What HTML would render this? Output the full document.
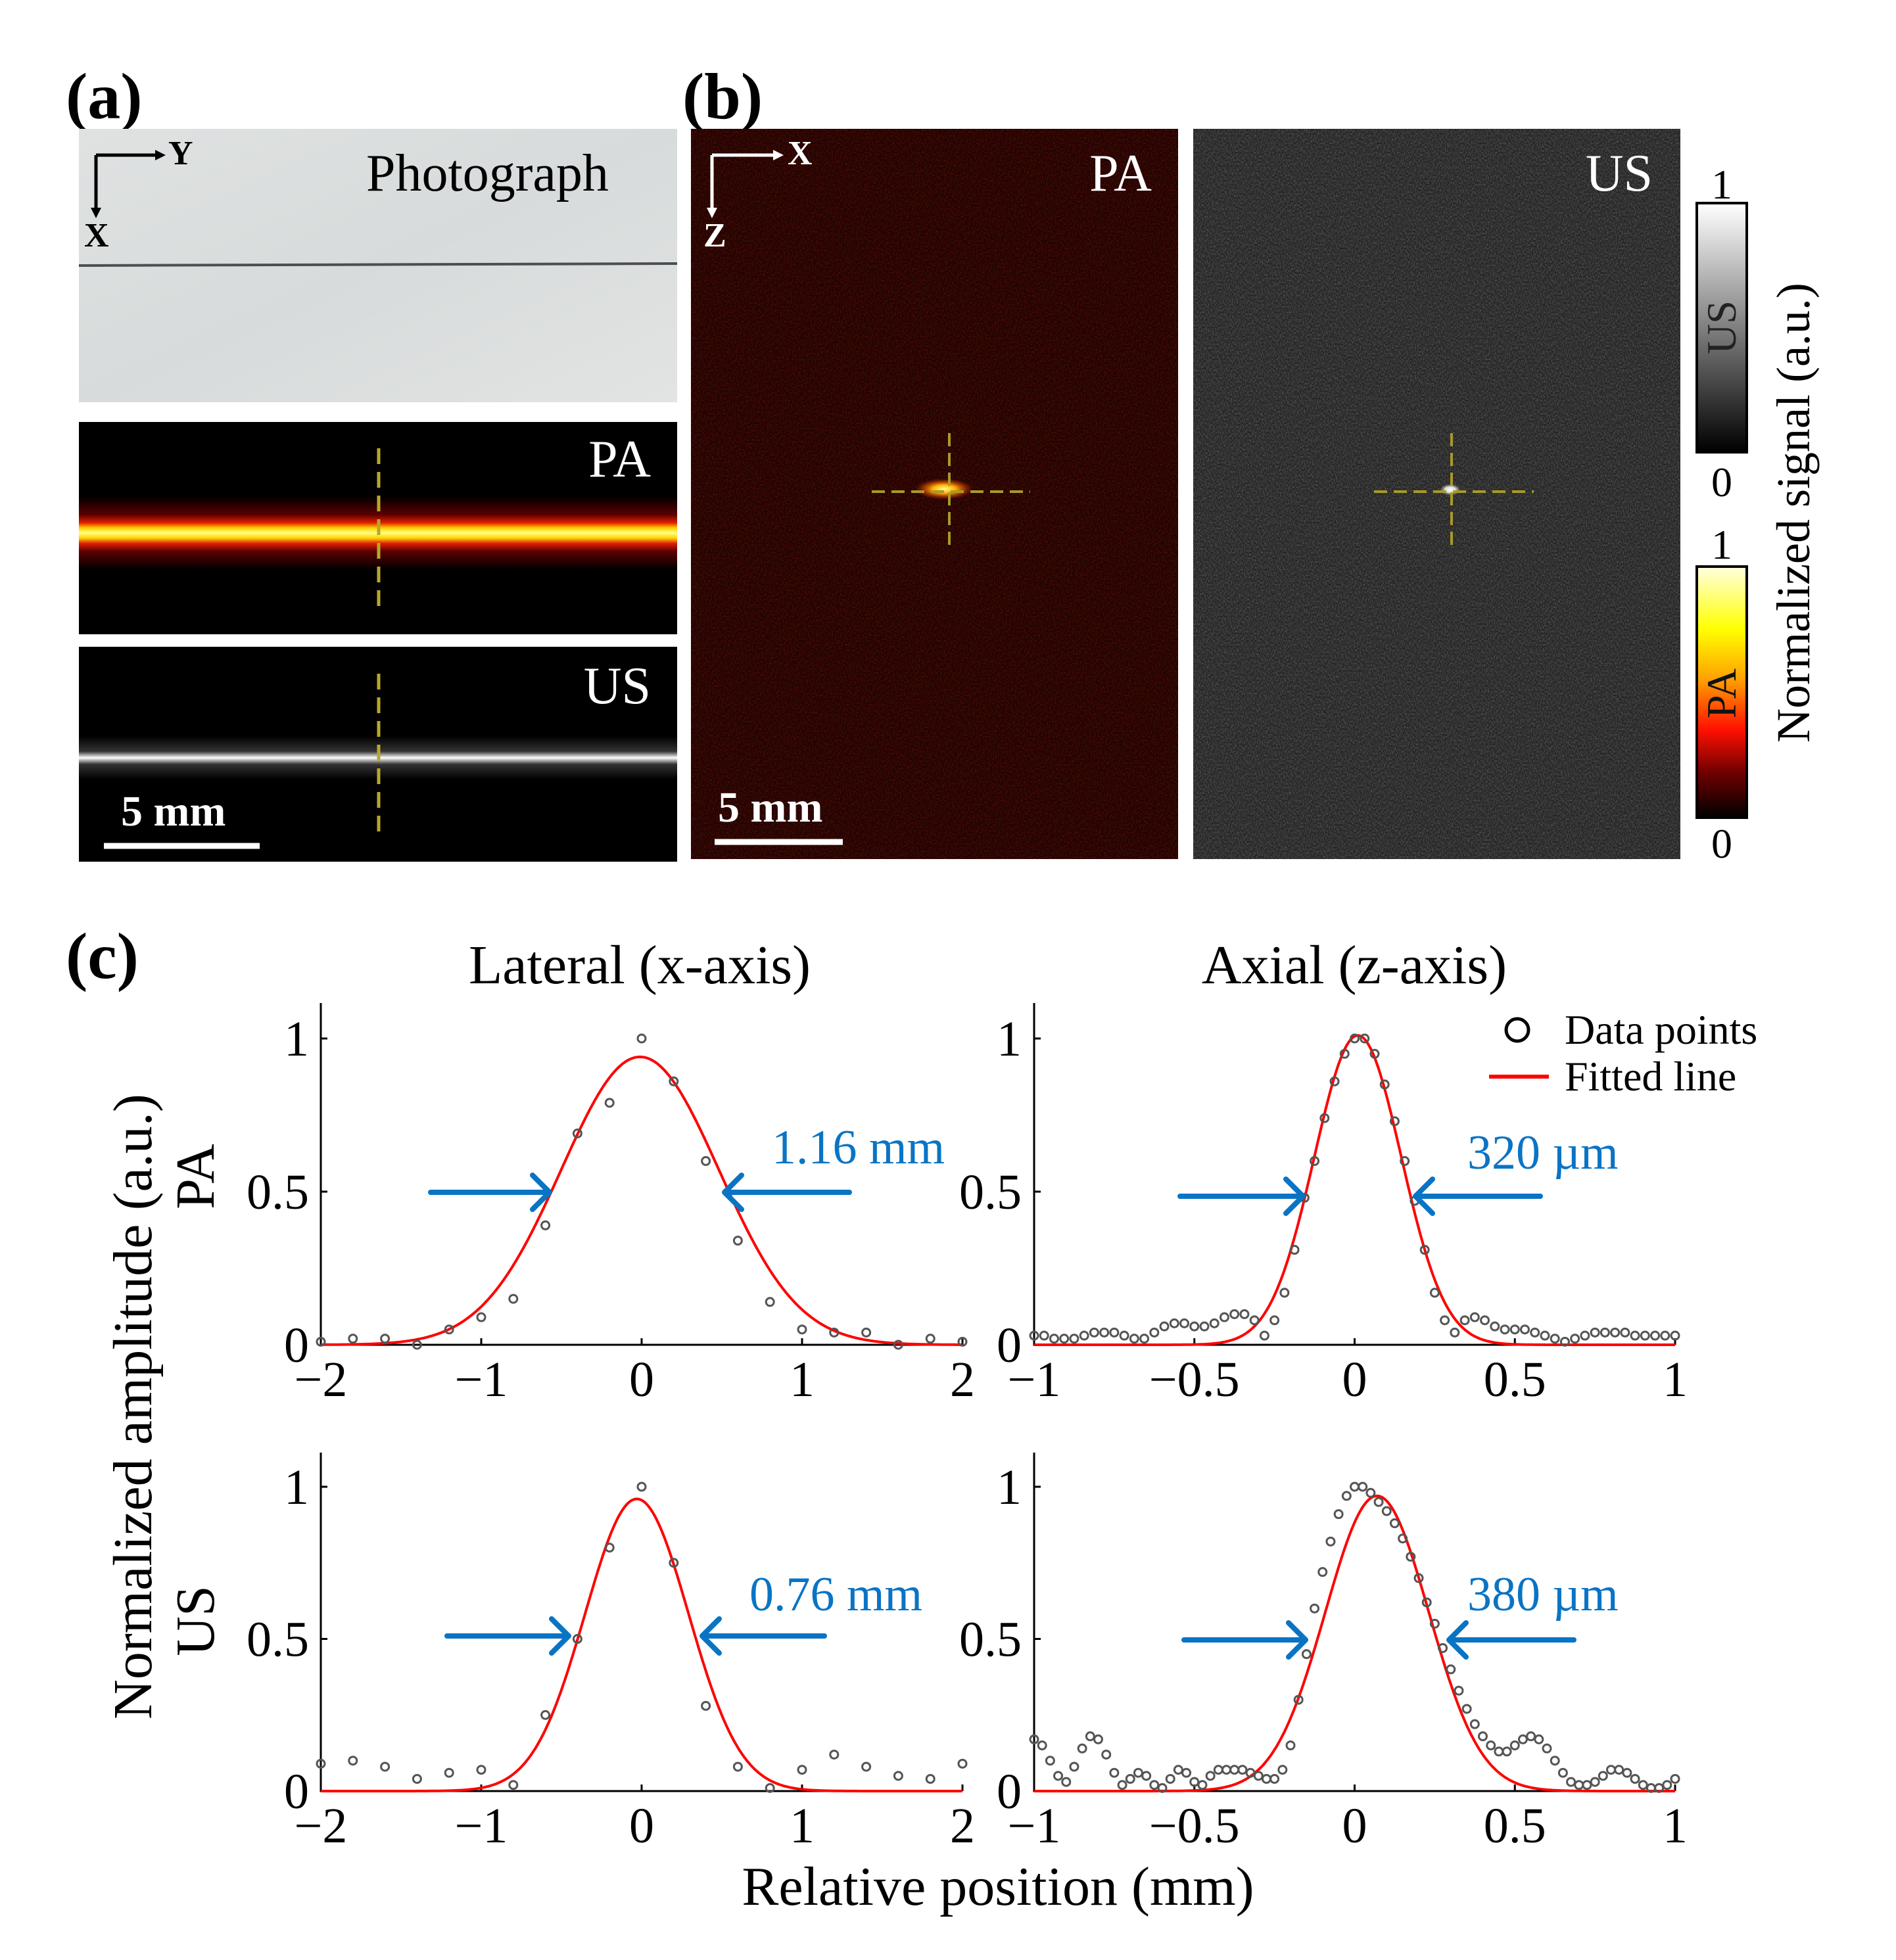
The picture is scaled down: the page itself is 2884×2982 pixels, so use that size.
<!DOCTYPE html>
<html><head><meta charset="utf-8">
<style>
html,body{margin:0;padding:0;background:#fff;}
svg{display:block;font-family:"Liberation Serif",serif;}
</style></head>
<body>
<svg id="fig" width="2884" height="2982" viewBox="0 0 2884 2982" xmlns="http://www.w3.org/2000/svg">
<defs>
  <filter id="noiseRed" x="0" y="0" width="100%" height="100%" color-interpolation-filters="sRGB">
    <feTurbulence type="fractalNoise" baseFrequency="0.55 0.35" numOctaves="1" seed="3"/>
    <feColorMatrix type="matrix" values="0 0 0 0 0.75  0 0 0 0 0.12  0 0 0 0 0.06  1.6 0 0 0 -0.6"/>
  </filter>
  <filter id="noiseGray" x="0" y="0" width="100%" height="100%" color-interpolation-filters="sRGB">
    <feTurbulence type="fractalNoise" baseFrequency="0.55 0.35" numOctaves="1" seed="7"/>
    <feColorMatrix type="matrix" values="0 0 0 0 0.75  0 0 0 0 0.75  0 0 0 0 0.75  1.6 0 0 0 -0.6"/>
  </filter>
  <linearGradient id="photoGrad" x1="0" y1="0" x2="1" y2="1">
    <stop offset="0" stop-color="#dfe2e1"/><stop offset="0.5" stop-color="#d7dbdb"/><stop offset="1" stop-color="#e2e4e3"/>
  </linearGradient>
  <linearGradient id="paBand" x1="0" y1="0" x2="0" y2="1">
    <stop offset="0" stop-color="#000"/><stop offset="0.25" stop-color="#5a0000"/><stop offset="0.36" stop-color="#e02000"/>
    <stop offset="0.43" stop-color="#ffd000"/><stop offset="0.5" stop-color="#ffff80"/><stop offset="0.57" stop-color="#ffd000"/>
    <stop offset="0.64" stop-color="#e02000"/><stop offset="0.75" stop-color="#5a0000"/><stop offset="1" stop-color="#000"/>
  </linearGradient>
  <linearGradient id="usBand" x1="0" y1="0" x2="0" y2="1">
    <stop offset="0" stop-color="#000"/><stop offset="0.35" stop-color="#333"/><stop offset="0.5" stop-color="#fff"/><stop offset="0.65" stop-color="#333"/><stop offset="1" stop-color="#000"/>
  </linearGradient>
  <linearGradient id="cbUS" x1="0" y1="0" x2="0" y2="1">
    <stop offset="0" stop-color="#fff"/><stop offset="1" stop-color="#000"/>
  </linearGradient>
  <linearGradient id="cbPA" x1="0" y1="0" x2="0" y2="1">
    <stop offset="0" stop-color="#ffffe0"/><stop offset="0.25" stop-color="#ffff00"/><stop offset="0.45" stop-color="#ffa000"/>
    <stop offset="0.65" stop-color="#ff1000"/><stop offset="0.82" stop-color="#700000"/><stop offset="1" stop-color="#000"/>
  </linearGradient>
  <radialGradient id="spotPA"><stop offset="0" stop-color="#ffff90"/><stop offset="0.4" stop-color="#ffb000"/><stop offset="1" stop-color="#ff2000" stop-opacity="0"/></radialGradient>
  <radialGradient id="spotUS"><stop offset="0" stop-color="#fff"/><stop offset="0.5" stop-color="#ddd"/><stop offset="1" stop-color="#888" stop-opacity="0"/></radialGradient>
</defs>

<!-- Panel (a) -->
<text x="100" y="180" font-size="100" font-weight="bold">(a)</text>
<g>
  <rect x="120" y="196" width="910" height="416" fill="url(#photoGrad)"/>
  <line x1="120" y1="404" x2="1030" y2="401" stroke="#4a4f52" stroke-width="4"/>
  <text x="557" y="290" font-size="80">Photograph</text>
  <path d="M146 236 H240 M146 236 V320" stroke="#000" stroke-width="5" fill="none"/>
  <path d="M236 228 L252 236 L236 244 Z M138 316 L146 332 L154 316 Z" fill="#000"/>
  <text x="256" y="250" font-size="52" font-weight="bold">Y</text>
  <text x="128" y="375" font-size="52" font-weight="bold">X</text>
</g>
<g>
  <rect x="120" y="642" width="910" height="323" fill="#000"/>
  <rect x="120" y="755" width="910" height="112" fill="url(#paBand)"/>
  <line x1="576" y1="682" x2="576" y2="928" stroke="#b8a82a" stroke-width="5" stroke-dasharray="24,12"/>
  <text x="990" y="725" font-size="80" fill="#fff" text-anchor="end">PA</text>
</g>
<g>
  <rect x="120" y="984" width="910" height="327" fill="#000"/>
  <rect x="120" y="1120" width="910" height="66" fill="url(#usBand)"/>
  <line x1="576" y1="1025" x2="576" y2="1270" stroke="#b8a82a" stroke-width="5" stroke-dasharray="24,12"/>
  <text x="990" y="1070" font-size="80" fill="#fff" text-anchor="end">US</text>
  <text x="184" y="1256" font-size="66" font-weight="bold" fill="#fff">5 mm</text>
  <line x1="158" y1="1287" x2="395" y2="1287" stroke="#fff" stroke-width="9"/>
</g>

<!-- Panel (b) -->
<text x="1038" y="180" font-size="100" font-weight="bold">(b)</text>
<g>
  <rect x="1051" y="196" width="741" height="1111" fill="#1e0402"/>
  <rect x="1051" y="196" width="741" height="1111" filter="url(#noiseRed)" opacity="0.45"/>
  <ellipse cx="1436" cy="744" rx="44" ry="16" fill="url(#spotPA)"/>
  <line x1="1326" y1="748" x2="1567" y2="748" stroke="#a89a28" stroke-width="4" stroke-dasharray="20,10"/>
  <line x1="1444" y1="659" x2="1444" y2="832" stroke="#a89a28" stroke-width="4" stroke-dasharray="20,10"/>
  <path d="M1083 236 H1180 M1083 236 V320" stroke="#fff" stroke-width="5" fill="none"/>
  <path d="M1176 228 L1192 236 L1176 244 Z M1075 316 L1083 332 L1091 316 Z" fill="#fff"/>
  <text x="1198" y="250" font-size="52" font-weight="bold" fill="#fff">X</text>
  <text x="1070" y="375" font-size="52" font-weight="bold" fill="#fff">Z</text>
  <text x="1752" y="290" font-size="80" fill="#fff" text-anchor="end">PA</text>
  <text x="1092" y="1250" font-size="66" font-weight="bold" fill="#fff">5 mm</text>
  <line x1="1087" y1="1281" x2="1282" y2="1281" stroke="#fff" stroke-width="9"/>
</g>
<g>
  <rect x="1815" y="196" width="741" height="1111" fill="#262626"/>
  <rect x="1815" y="196" width="741" height="1111" filter="url(#noiseGray)" opacity="0.4"/>
  <ellipse cx="2206" cy="745" rx="16" ry="9" fill="url(#spotUS)"/>
  <line x1="2090" y1="748" x2="2333" y2="748" stroke="#a89a28" stroke-width="4" stroke-dasharray="20,10"/>
  <line x1="2208" y1="659" x2="2208" y2="832" stroke="#a89a28" stroke-width="4" stroke-dasharray="20,10"/>
  <text x="2514" y="290" font-size="80" fill="#fff" text-anchor="end">US</text>
</g>
<g>
  <rect x="2581" y="309" width="76" height="379" fill="url(#cbUS)" stroke="#000" stroke-width="4"/>
  <text x="2619" y="302" font-size="64" text-anchor="middle">1</text>
  <text x="2619" y="755" font-size="64" text-anchor="middle">0</text>
  <text transform="translate(2640,498) rotate(-90)" font-size="64" text-anchor="middle" fill="#222">US</text>
</g>
<g>
  <rect x="2581" y="862" width="76" height="382" fill="url(#cbPA)" stroke="#000" stroke-width="4"/>
  <text x="2619" y="850" font-size="64" text-anchor="middle">1</text>
  <text x="2619" y="1305" font-size="64" text-anchor="middle">0</text>
  <text transform="translate(2640,1055) rotate(-90)" font-size="64" text-anchor="middle" fill="#111">PA</text>
</g>
<text transform="translate(2752,780) rotate(-90)" font-size="72" text-anchor="middle">Normalized signal (a.u.)</text>

<!-- Panel (c) -->
<text x="100" y="1488" font-size="100" font-weight="bold">(c)</text>
<text x="973" y="1496" font-size="84" text-anchor="middle">Lateral (x-axis)</text>
<text x="2060" y="1496" font-size="84" text-anchor="middle">Axial (z-axis)</text>
<text transform="translate(230,2140) rotate(-90)" font-size="84" text-anchor="middle">Normalized amplitude (a.u.)</text>
<text transform="translate(325,1790) rotate(-90)" font-size="84" text-anchor="middle">PA</text>
<text transform="translate(325,2466) rotate(-90)" font-size="84" text-anchor="middle">US</text>
<text x="1518" y="2898" font-size="84" text-anchor="middle">Relative position (mm)</text>
<g>
  <circle cx="2308" cy="1567" r="17" fill="none" stroke="#000" stroke-width="5"/>
  <text x="2380" y="1588" font-size="64">Data points</text>
  <line x1="2265" y1="1638" x2="2356" y2="1638" stroke="#f00" stroke-width="6"/>
  <text x="2380" y="1659" font-size="64">Fitted line</text>
</g>
<g id="plots"></g>
</svg>
<script>
// ---- data ----
const latX = [-2,-1.8,-1.6,-1.4,-1.2,-1,-0.8,-0.6,-0.4,-0.2,0,0.2,0.4,0.6,0.8,1,1.2,1.4,1.6,1.8,2];
const paLatY = [0.01,0.02,0.02,0,0.05,0.09,0.15,0.39,0.69,0.79,1.0,0.86,0.6,0.34,0.14,0.05,0.04,0.04,0,0.02,0.01];
const usLatY = [0.09,0.1,0.08,0.04,0.06,0.07,0.02,0.25,0.5,0.8,1.0,0.75,0.28,0.08,0.01,0.07,0.12,0.08,0.05,0.04,0.09];
const paAxStart = -1, paAxStep = 0.03125;
const paAxY = [0.03,0.03,0.02,0.02,0.02,0.03,0.04,0.04,0.04,0.03,0.02,0.02,0.04,0.06,0.07,0.07,0.06,0.06,0.07,0.09,0.10,0.10,0.08,0.03,0.08,0.17,0.31,0.48,0.60,0.74,0.86,0.95,1.0,1.0,0.95,0.85,0.73,0.60,0.47,0.31,0.17,0.08,0.04,0.08,0.09,0.08,0.06,0.05,0.05,0.05,0.04,0.03,0.02,0.01,0.02,0.03,0.04,0.04,0.04,0.04,0.03,0.03,0.03,0.03,0.03];
const usAxStart = -1, usAxStep = 0.025;
const usAxY = [0.17,0.15,0.10,0.05,0.03,0.08,0.14,0.18,0.17,0.12,0.06,0.02,0.04,0.06,0.05,0.02,0.01,0.04,0.07,0.06,0.03,0.02,0.05,0.07,0.07,0.07,0.07,0.06,0.05,0.04,0.04,0.07,0.15,0.30,0.45,0.60,0.72,0.82,0.91,0.97,1.0,1.0,0.98,0.95,0.92,0.88,0.83,0.77,0.70,0.62,0.55,0.47,0.40,0.33,0.27,0.22,0.18,0.15,0.13,0.13,0.15,0.17,0.18,0.17,0.14,0.10,0.06,0.03,0.02,0.02,0.03,0.05,0.07,0.07,0.06,0.04,0.02,0.01,0.01,0.02,0.04];
// fit params: amplitude, center, FWHM
const fitAmp = [0.94, 1.01, 0.96, 0.97];
const fitCenter = [-0.01, 0.01, -0.03, 0.07];
const fitFWHM = [1.16, 0.32, 0.76, 0.38];
const fwhmLabels = ["1.16 mm","320 µm","0.76 mm","380 µm"];
const latTicks = [-2,-1,0,1,2];
const axTicks = [-1,-0.5,0,0.5,1];
const yTicks = [0,0.5,1];

const NS = "http://www.w3.org/2000/svg";
const root = document.getElementById('plots');
function mk(tag, attrs, parent){ const e=document.createElementNS(NS,tag); for(const k in attrs) e.setAttribute(k,attrs[k]); (parent||root).appendChild(e); return e; }
function fmt(v){ return (v<0?"\u2212":"")+String(Math.abs(v)); }

const panels = [
  {name:'pa-lateral', x0:488, x1:1464, xmin:-2, xmax:2, y0:2046, y1:1580, top:1526, xs:latX, ys:paLatY, ticks:latTicks, fi:0, arrowY:1814, la:[655,836], ra:[1292,1102], lx:1174, ly:1770, ylx:470},
  {name:'pa-axial', x0:1573, x1:2548, xmin:-1, xmax:1, y0:2046, y1:1580, top:1526, xs:null, start:paAxStart, step:paAxStep, ys:paAxY, ticks:axTicks, fi:1, arrowY:1820, la:[1795,1982], ra:[2343,2153], lx:2232, ly:1778, ylx:1554},
  {name:'us-lateral', x0:488, x1:1464, xmin:-2, xmax:2, y0:2725, y1:2262, top:2210, xs:latX, ys:usLatY, ticks:latTicks, fi:2, arrowY:2489, la:[680,865], ra:[1254,1068], lx:1140, ly:2450, ylx:470},
  {name:'us-axial', x0:1573, x1:2548, xmin:-1, xmax:1, y0:2725, y1:2262, top:2210, xs:null, start:usAxStart, step:usAxStep, ys:usAxY, ticks:axTicks, fi:3, arrowY:2495, la:[1801,1986], ra:[2394,2204], lx:2232, ly:2450, ylx:1554}
];

panels.forEach(p=>{
  const g = mk('g',{});
  
  
  const sx = v => p.x0 + (v-p.xmin)/(p.xmax-p.xmin)*(p.x1-p.x0);
  const sy = v => p.y0 - v*(p.y0-p.y1);
  const ax = mk('path',{d:`M${p.x0} ${p.top} V${p.y0} H${p.x1}`, stroke:'#000','stroke-width':3, fill:'none'}, g);
  
  
  p.ticks.forEach(t=>{
    mk('line',{x1:sx(t),x2:sx(t),y1:p.y0,y2:p.y0-10,stroke:'#000','stroke-width':3},g);
    const tl = mk('text',{x:sx(t), y:p.y0+78, 'font-size':76, 'text-anchor':'middle'},g);
    tl.textContent = fmt(t);
    
    
  });
  yTicks.forEach(t=>{
    mk('line',{x1:p.x0,x2:p.x0+10,y1:sy(t),y2:sy(t),stroke:'#000','stroke-width':3},g);
    const tl = mk('text',{x:p.ylx, y:sy(t)+26, 'font-size':76, 'text-anchor':'end'},g);
    tl.textContent = fmt(t);
    
    
  });
  const A=fitAmp[p.fi], c=fitCenter[p.fi], s=fitFWHM[p.fi]/2.3548;
  let d='';
  for(let i=0;i<=400;i++){
    const x = p.xmin + (p.xmax-p.xmin)*i/400;
    const y = A*Math.exp(-((x-c)**2)/(2*s*s));
    d += (i?'L':'M')+sx(x).toFixed(1)+' '+sy(y).toFixed(1);
  }
  const fl = mk('path',{d:d, stroke:'#f00','stroke-width':4, fill:'none'}, g);
  
  
  p.ys.forEach((v,i)=>{
    const x = p.xs ? p.xs[i] : p.start + i*p.step;
    const pt = mk('circle',{cx:sx(x), cy:sy(v), r:6, fill:'none', stroke:'#555','stroke-width':3}, g);
    
    
  });
  const blue='#0a74c4';
  const la = mk('path',{d:`M${p.la[0]} ${p.arrowY} H${p.la[1]} M${p.la[1]-26} ${p.arrowY-26} L${p.la[1]} ${p.arrowY} L${p.la[1]-26} ${p.arrowY+26}`, stroke:blue,'stroke-width':8, fill:'none','stroke-linecap':'round','stroke-linejoin':'round'}, g);
  
  
  const ra = mk('path',{d:`M${p.ra[0]} ${p.arrowY} H${p.ra[1]} M${p.ra[1]+26} ${p.arrowY-26} L${p.ra[1]} ${p.arrowY} L${p.ra[1]+26} ${p.arrowY+26}`, stroke:blue,'stroke-width':8, fill:'none','stroke-linecap':'round','stroke-linejoin':'round'}, g);
  
  
  const lbl = mk('text',{x:p.lx, y:p.ly, 'font-size':74, fill:blue}, g);
  lbl.textContent = fwhmLabels[p.fi];
  
  
});
</script>
</body></html>
